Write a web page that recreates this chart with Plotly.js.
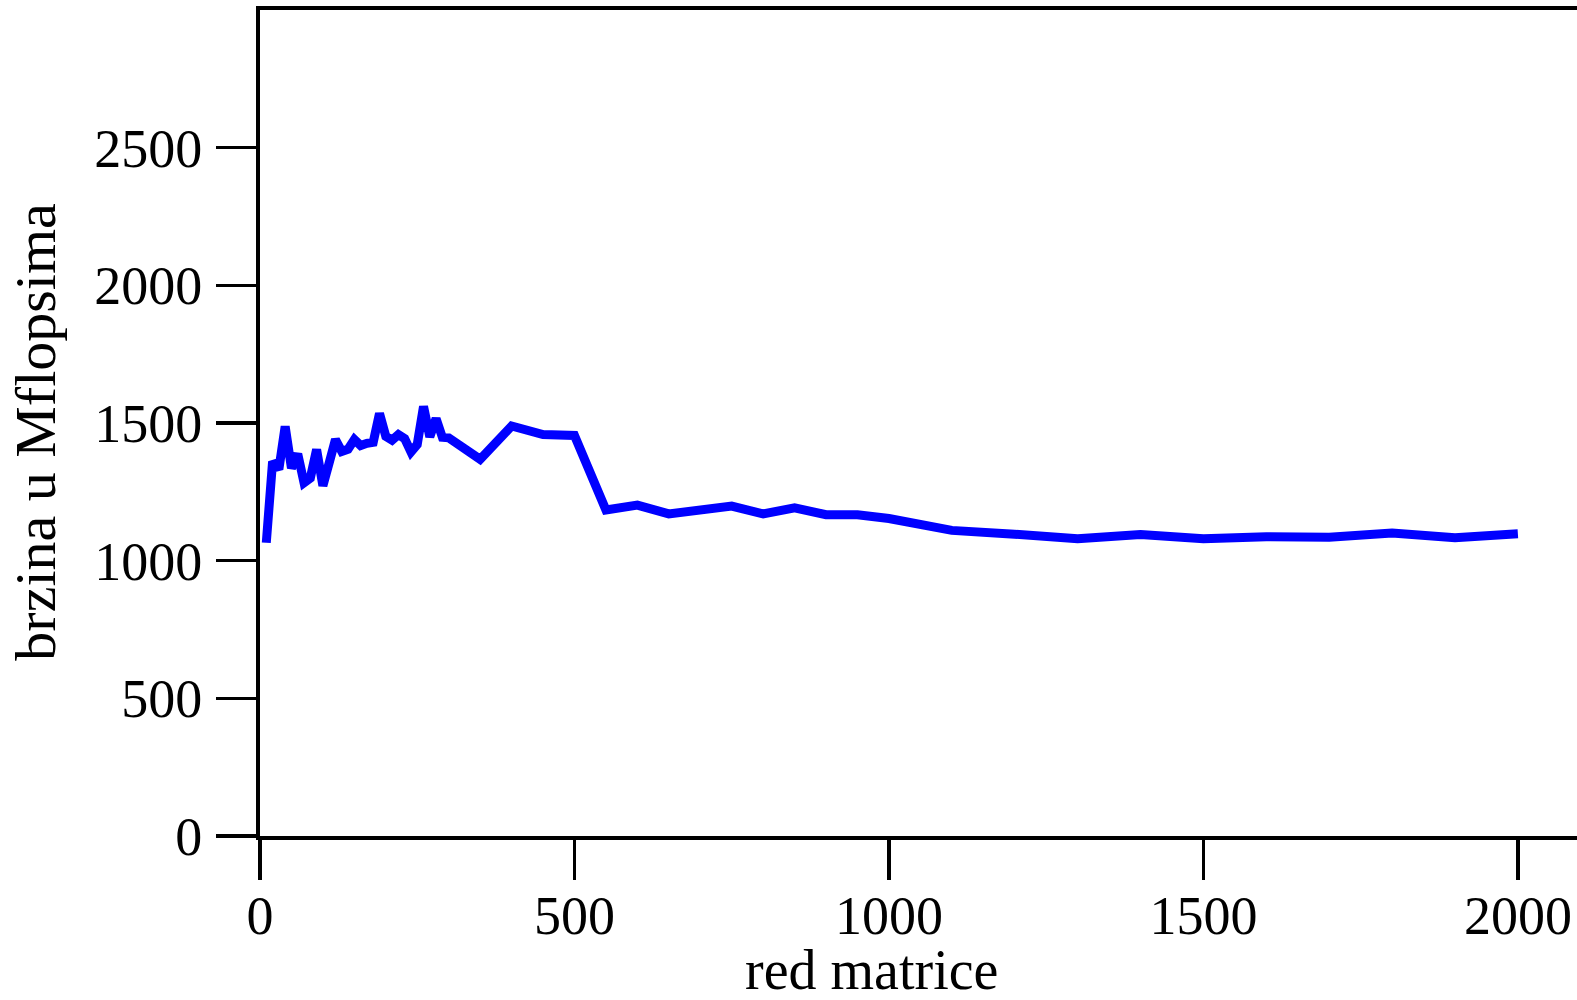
<!DOCTYPE html>
<html>
<head>
<meta charset="utf-8">
<script src="https://cdn.plot.ly/plotly-3.0.1.min.js"></script>
<style>html,body{margin:0;padding:0;background:#fff;}#chart{width:1577px;height:1000px;}</style>
</head>
<body>
<div id="chart"></div>
<script>
const matrixSize = [10,20,30,40,50,60,70,80,90,100,110,120,130,140,150,160,170,180,190,200,210,220,230,240,250,260,270,280,290,300,
  350,400,450,500,550,600,650,700,750,800,850,900,950,1000,
  1100,1200,1300,1400,1500,1600,1700,1800,1900,2000];
const mflops = [1065,1360,1332,1488,1336,1388,1283,1300,1404,1272,1355,1440,1397,1405,1440,1418,1426,1430,1535,1452,1438,1458,1443,1395,1422,1560,1450,1516,1448,1446,
  1368,1489,1458,1455,1184,1202,1170,1188,1198,1170,1192,1167,1167,1153,
  1110,1096,1080,1095,1080,1087,1085,1100,1083,1098];
const xTicks = [0,500,1000,1500,2000];
const yTicks = [0,500,1000,1500,2000,2500];
const xTitle = "red matrice";
const yTitle = "brzina u Mflopsima";

const fam = "Liberation Serif, DejaVu Serif, serif";
const tickFont = {family: fam, size: 54, color: "#000"};
const titleFont = {family: fam, size: 58, color: "#000"};
const xTitleFont = {family: fam, size: 56, color: "#000"};

Plotly.newPlot("chart", [{
  x: matrixSize, y: mflops, type: "scatter", mode: "lines",
  line: {color: "#0000ff", width: 9},
  hoverinfo: "skip"
}], {
  width: 1577, height: 1000,
  margin: {l: 259.5, r: 0, t: 10, b: 164},
  paper_bgcolor: "#fff", plot_bgcolor: "#fff",
  showlegend: false,
  font: tickFont,
  xaxis: {
    range: [0, 2094], tickvals: xTicks, ticktext: xTicks.map(String),
    showgrid: false, zeroline: false,
    showline: true, linecolor: "#000", linewidth: 4, mirror: true,
    ticks: "outside", ticklen: 40, tickwidth: 3.5, tickcolor: "#000",
    ticklabelstandoff: -11,
    tickfont: tickFont
  },
  yaxis: {
    range: [0, 3000], tickvals: yTicks, ticktext: yTicks.map(String),
    showgrid: false, zeroline: false,
    showline: true, linecolor: "#000", linewidth: 4, mirror: false,
    ticks: "outside", ticklen: 40, tickwidth: 3.5, tickcolor: "#000",
    ticklabelstandoff: 3,
    tickfont: tickFont
  },
  annotations: [
    {text: xTitle, xref: "paper", yref: "paper", x: 0.4645, y: -0.162,
     xanchor: "center", yanchor: "middle", showarrow: false, font: xTitleFont},
    {text: yTitle, xref: "paper", yref: "paper", x: -0.1704, y: 0.489,
     xanchor: "center", yanchor: "middle", textangle: -90, showarrow: false, font: titleFont}
  ]
}, {displayModeBar: false, staticPlot: true});
</script>
</body>
</html>
